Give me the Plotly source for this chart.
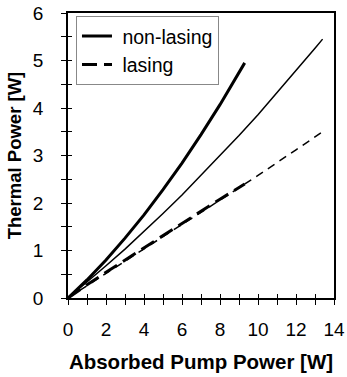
import plotly.graph_objects as go

# Non-lasing (thick solid)
x_nl_a = [0, 1, 2, 3, 4, 5, 6, 7, 8, 9.3]
y_nl_a = [0, 0.38, 0.80, 1.26, 1.75, 2.28, 2.84, 3.44, 4.07, 4.95]
# Non-lasing (thin solid)
x_nl_b = [0, 1, 2, 3, 4, 5, 6, 7, 8, 9, 10, 11, 12, 13, 13.4]
y_nl_b = [0, 0.33, 0.68, 1.03, 1.40, 1.78, 2.17, 2.58, 2.99, 3.42, 3.86, 4.32, 4.78, 5.26, 5.45]
# Lasing (thick dashed)
x_l_a = [0, 1, 2, 4, 6, 8, 9.3]
y_l_a = [0, 0.28, 0.54, 1.06, 1.57, 2.08, 2.40]
# Lasing (thin dashed)
x_l_b = [0, 2, 4, 6, 8, 10, 12, 13.4]
y_l_b = [0, 0.52, 1.04, 1.55, 2.06, 2.58, 3.12, 3.50]

x_ticks = [0, 2, 4, 6, 8, 10, 12, 14]
y_ticks = [0, 1, 2, 3, 4, 5, 6]

FONT = "Arial, Liberation Sans, sans-serif"

fig = go.Figure()
fig.add_trace(go.Scatter(x=x_nl_a, y=y_nl_a, mode="lines", name=" non-lasing",
                         line=dict(color="black", width=3)))
fig.add_trace(go.Scatter(x=x_l_a, y=y_l_a, mode="lines", name=" lasing",
                         line=dict(color="black", width=3, dash="15px,7px")))
fig.add_trace(go.Scatter(x=x_nl_b, y=y_nl_b, mode="lines", showlegend=False,
                         line=dict(color="black", width=1.5)))
fig.add_trace(go.Scatter(x=x_l_b, y=y_l_b, mode="lines", showlegend=False,
                         line=dict(color="black", width=1.5, dash="8px,6px")))
# empty trace to activate overlay axes (inside half of crossing ticks)
fig.add_trace(go.Scatter(x=[], y=[], xaxis="x2", yaxis="y2", showlegend=False,
                         hoverinfo="skip"))

fig.update_layout(
    width=347, height=377,
    margin=dict(l=68, r=13, t=13, b=79),
    paper_bgcolor="white", plot_bgcolor="white",
    font=dict(family=FONT, color="black", size=19),
    showlegend=True,
    legend=dict(x=0.03, y=0.99, xanchor="left", yanchor="top",
                bgcolor="white", bordercolor="#888", borderwidth=1,
                font=dict(size=19.5, family=FONT), tracegroupgap=0),
    xaxis=dict(range=[0, 14], tickvals=x_ticks, ticktext=[str(v) for v in x_ticks],
               showgrid=False, zeroline=False, showline=True, linecolor="black",
               linewidth=1.5, mirror=True, ticks="outside", ticklen=5,
               tickcolor="black", ticklabelstandoff=8, automargin=False,
               minor=dict(dtick=1, ticks="outside", ticklen=5, tickcolor="black"),
               title=dict(text="<b>Absorbed Pump Power [W]</b>", font=dict(size=20.5),
                          standoff=16)),
    yaxis=dict(range=[0, 6], tickvals=y_ticks, ticktext=[str(v) for v in y_ticks],
               showgrid=False, zeroline=False, showline=True, linecolor="black",
               linewidth=1.5, mirror=True, ticks="outside", ticklen=5,
               tickcolor="black", ticklabelstandoff=14, automargin=False,
               minor=dict(dtick=0.5, ticks="outside", ticklen=5, tickcolor="black"),
               title=dict(text="<b>Thermal Power [W]</b>", font=dict(size=18.5),
                          standoff=6)),
    xaxis2=dict(range=[0, 14], overlaying="x", anchor="y2", side="bottom",
                showgrid=False, zeroline=False, showline=False, showticklabels=False,
                tickvals=x_ticks, ticks="inside", ticklen=4, tickcolor="black",
                automargin=False,
                minor=dict(dtick=1, ticks="inside", ticklen=4, tickcolor="black")),
    yaxis2=dict(range=[0, 6], overlaying="y", anchor="x2", side="left",
                showgrid=False, zeroline=False, showline=False, showticklabels=False,
                tickvals=y_ticks, ticks="inside", ticklen=4, tickcolor="black",
                automargin=False,
                minor=dict(dtick=0.5, ticks="inside", ticklen=4, tickcolor="black")),
)

fig.write_html("out.html")
